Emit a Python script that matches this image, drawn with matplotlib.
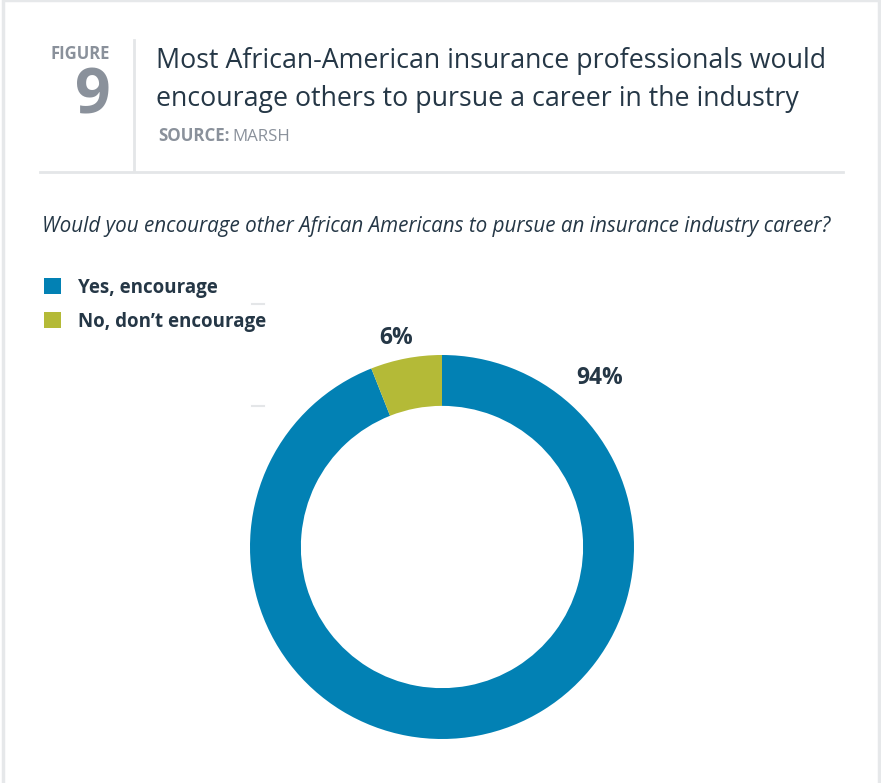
import matplotlib.pyplot as plt
from matplotlib.patches import Rectangle
from matplotlib.lines import Line2D

# survey answers
labels = ["Yes, encourage", "No, don\u2019t encourage"]
shares = [94, 6]
colors = ["#0281B4", "#B4BA37"]
pct_labels = ["94%", "6%"]

title_lines = ["Most African-American insurance professionals would",
               "encourage others to pursue a career in the industry"]
question = "Would you encourage other African Americans to pursue an insurance industry career?"

W, H = 881, 783
dark = "#253746"
grey = "#8A919B"
rule = "#E4E6E8"
plt.rcParams['font.family'] = ['Open Sans', 'DejaVu Sans']

fig = plt.figure(figsize=(W / 100, H / 100), dpi=100)


def fx(x):
    return x / W


def fy(y):
    return 1 - y / H


def txt(x, y, s, **kw):
    # y is the text baseline in pixels from the top
    kw.setdefault("va", "baseline")
    return fig.text(fx(x), fy(y), s, **kw)


def hline(x0, x1, y, c=rule, lw=2.0):
    fig.add_artist(Line2D([fx(x0), fx(x1)], [fy(y), fy(y)], color=c, lw=lw))


def vline(x, y0, y1, c=rule, lw=2.0):
    fig.add_artist(Line2D([fx(x), fx(x)], [fy(y0), fy(y1)], color=c, lw=lw))


# card outline
fig.add_artist(Rectangle((fx(3), fy(800)), fx(876), 800 / H, fill=False,
                         ec="#E6E8EA", lw=2.5))

# header block
txt(80, 59, "FIGURE", fontsize=12, fontweight="bold", color=grey, ha="center")
txt(93, 113, "9", fontsize=45, fontweight="bold", color=grey, ha="center")
vline(134, 40, 170)
for i, line in enumerate(title_lines):
    txt(156, 68 + 38 * i, line, fontsize=19.3, color=dark, ha="left")

src = txt(158, 141, "SOURCE:", fontsize=12.2, fontweight="bold", color=grey, ha="left")
fig.canvas.draw()
bb = src.get_window_extent()
txt(bb.x1 + 3, 141, "MARSH", fontsize=12.2, color=grey, ha="left")
hline(40, 843, 172)

txt(42, 232, question, fontsize=14.9, style="italic", color=dark, ha="left")

# legend
for i, (lab, col) in enumerate(zip(labels, colors)):
    y = 293 + 34 * i
    fig.add_artist(Rectangle((fx(44), fy(y + 1)), 17 / W, 16 / H, color=col, lw=0))
    txt(78, y, lab, fontsize=13.5, fontweight="bold", color=dark, ha="left")

# small grey dashes left of the ring
hline(252, 264, 304, lw=1.5)
hline(252, 264, 406, lw=1.5)

# donut
cx, cy, r = 442, 547, 192
ax = fig.add_axes([fx(cx - r), fy(cy + r), 2 * r / W, 2 * r / H])
ax.pie(shares, colors=colors, startangle=90, counterclock=False, radius=1,
       wedgeprops=dict(width=0.265, linewidth=0))
ax.set_xlim(-1, 1)
ax.set_ylim(-1, 1)
ax.set_aspect("equal")
ax.axis("off")

txt(600, 384, pct_labels[0], fontsize=16.5, fontweight="bold", color=dark, ha="center")
txt(396, 344, pct_labels[1], fontsize=16.5, fontweight="bold", color=dark, ha="center")

fig.savefig("out.png", dpi=100)
